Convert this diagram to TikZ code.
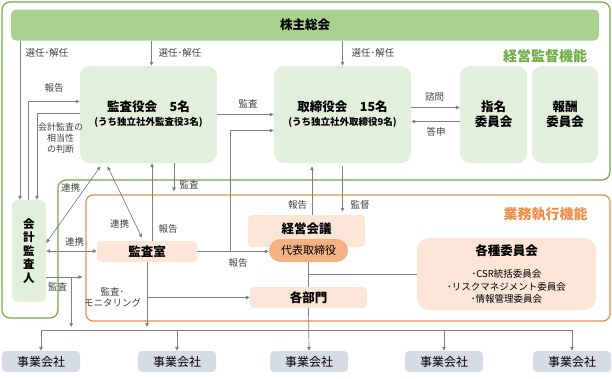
\documentclass[tikz,border=0pt]{standalone}
\usepackage{fontspec}
\setmainfont{Noto Sans CJK JP}
\usetikzlibrary{arrows.meta}

\definecolor{verde}{HTML}{A9D18E}
\definecolor{verdeclaro}{HTML}{E2EFDA}
\definecolor{verdeescuro}{HTML}{70AD47}
\definecolor{laranja}{HTML}{F08C4A}
\definecolor{pessego}{HTML}{FBE5D6}
\definecolor{salmao}{HTML}{F4B183}
\definecolor{cinza}{HTML}{D6DCE5}
\definecolor{cinzalinha}{HTML}{7F7F7F}
\definecolor{texto}{HTML}{404040}

\begin{document}
\begin{tikzpicture}[x=1pt, y=-1pt,
        verdebox/.style={fill=verdeclaro, rounded corners=10, inner sep=0, align=center,
            font=\bfseries\fontsize{12.5}{15}\selectfont},
        pessegobox/.style={fill=pessego, rounded corners=4, inner sep=0,
            font=\bfseries\fontsize{12.5}{15}\selectfont},
        empresa/.style={fill=cinza, rounded corners=4, inner sep=0, minimum width=78,
            minimum height=21, font=\fontsize{12}{14}\selectfont},
        rotulo/.style={inner sep=0, align=center, text=texto, font=\fontsize{9.5}{11.5}\selectfont},
        conector/.style={draw=cinzalinha, line width=0.7pt},
        seta/.style={conector, -{Triangle[length=4pt,width=3.5pt]}},
        seta2/.style={conector, {Triangle[length=4pt,width=3.5pt]}-{Triangle[length=4pt,width=3.5pt]}}]
        \useasboundingbox (0,0) rectangle (612,378);

        % Molduras
        \draw[verdeescuro, line width=1.2pt, rounded corners=8]
            (2,2) -- (610,2) -- (610,180) -- (58,180) -- (58,318) -- (2,318) -- cycle;
        \node[draw=laranja, line width=1.2pt, rounded corners=7, inner sep=0,
            minimum width=524, minimum height=126] (gyomu) at (348,258) {};
        \node[inner sep=0, text=verdeescuro, font=\bfseries\fontsize{14}{16}\selectfont]
            (kantoku) at (545,56) {経営監督機能};
        \node[inner sep=0, text=laranja, font=\bfseries\fontsize{14}{16}\selectfont]
            (shikko) at (545.5,214) {業務執行機能};

        % Caixas
        \node[fill=verde, rounded corners=5, minimum width=588, minimum height=31,
            font=\bfseries\fontsize{12.5}{15}\selectfont] (kabunushi) at (305,25) {株主総会};
        \node[verdebox, minimum width=137, minimum height=97] (kansayaku) at (148.5,114.5)
            {監査役会　5名\\[-1pt]{\fontsize{9.5}{11}\selectfont (うち独立社外監査役3名)}};
        \node[verdebox, minimum width=137, minimum height=97] (torishimari) at (342.5,114.5)
            {取締役会　15名\\[-1pt]{\fontsize{9.5}{11}\selectfont (うち独立社外取締役9名)}};
        \node[verdebox, minimum width=67, minimum height=97] (shimei) at (493.5,114.5) {指名\\委員会};
        \node[verdebox, minimum width=66, minimum height=97] (hoshu) at (565,114.5) {報酬\\委員会};
        \node[verdebox, rounded corners=6, minimum width=34, minimum height=102,
            font=\bfseries\fontsize{11.5}{13.5}\selectfont] (kaikei) at (29,251) {会\\計\\監\\査\\人};
        \node[pessegobox, minimum width=100, minimum height=21] (shitsu) at (147,251.5) {監査室};
        \node[pessegobox, minimum width=117, minimum height=32, text depth=6pt] (keiei) at (306.5,231) {経営会議};
        \node[fill=salmao, rounded corners=11.5, inner sep=0, minimum width=79, minimum height=23,
            font=\fontsize{11}{13}\selectfont] (daihyo) at (308.5,250.5) {代表取締役};
        \node[pessegobox, minimum width=117, minimum height=21] (bumon) at (308.5,297.5) {各部門};
        \node[pessegobox, rounded corners=12, minimum width=179, minimum height=72, align=center,
            font=\fontsize{9.5}{12.5}\selectfont] (iinkai) at (506.5,274)
            {{\bfseries\fontsize{12.5}{15}\selectfont 各種委員会}\\[10pt]
             ･CSR統括委員会\\･リスクマネジメント委員会\\･情報管理委員会};
        \foreach \x [count=\i] in {41,177,309,444,572}
            \node[empresa] (jigyo\i) at (\x,361.5) {事業会社};

        % Conexoes
        \coordinate (bus-l) at (41,330);
        \coordinate (bus-r) at (572,330);
        \draw[conector] (bus-l) -- (bus-r);
        \foreach \i in {1,2,4,5}
            \draw[seta] (jigyo\i.north |- bus-l) -- (jigyo\i.north);

        \draw[seta] ([xshift=-9pt]kaikei.north |- kabunushi.south) -- ([xshift=-9pt]kaikei.north);
        \draw[seta] ([xshift=3pt]kansayaku.north |- kabunushi.south) -- ([xshift=3pt]kansayaku.north);
        \draw[seta] (torishimari.north |- kabunushi.south) -- (torishimari.north);
        \draw[seta] ([xshift=-1pt]kaikei.north) |- ([yshift=13pt]kansayaku.west);
        \draw[seta] ([yshift=1pt]kansayaku.west) -| ([xshift=8pt]kaikei.north);
        \draw[seta] (kansayaku.east) -- (torishimari.west);
        \draw[seta] ([yshift=7pt]torishimari.east) -- ([yshift=7pt]shimei.west);
        \draw[seta] ([yshift=-7pt]shimei.west) -- ([yshift=-7pt]torishimari.east);

        \draw[seta2] ([yshift=8pt]kaikei.east) -- ([xshift=-48pt,yshift=-3pt]kansayaku.south);
        \draw[seta2] (kaikei.east) -- (kaikei.east -| shitsu.west);
        \draw[seta2] ([xshift=-41pt,yshift=-3pt]kansayaku.south) -- ([xshift=-5pt,yshift=3pt]shitsu.north);
        \draw[seta] ([xshift=5pt]shitsu.north) -- ([xshift=5pt]shitsu.north |- kansayaku.south);
        \draw[seta] ([xshift=25.5pt]kansayaku.south) -- ([xshift=25.5pt,yshift=3pt]kansayaku.south |- gyomu.north);

        \coordinate (k-audit) at ([yshift=-26pt]kaikei.east);
        \draw[seta] (k-audit) -- ([xshift=-3pt]k-audit -| gyomu.west);
        \draw[seta] ([xshift=25pt]k-audit) -- ([xshift=25pt,yshift=3pt]k-audit |- bus-l);

        \draw[seta] (shitsu.east) -- (shitsu.east -| daihyo.west);
        \draw[seta] ([xshift=33pt]shitsu.east) |- ([yshift=-16pt]torishimari.west);
        \draw[seta] (shitsu.south) -- ([yshift=3pt]shitsu.south |- bus-l);
        \draw[seta] (shitsu.south |- bumon.west) -- (bumon.west);

        \draw[seta] ([xshift=5.5pt]keiei.north) -- ([xshift=5.5pt,yshift=-3pt]keiei.north |- torishimari.south);
        \draw[seta] ([yshift=-3pt]torishimari.south) -- ([yshift=3pt]torishimari.south |- keiei.north);
        \draw[conector] (daihyo.south) -- (bumon.north);
        \draw[conector] (daihyo.south |- iinkai.west) -- (iinkai.west);
        \draw[seta] (bumon.south) -- (jigyo3.north);

        % Rotulos
        \node[rotulo] (r-sennin1) at (47,53) {選任･解任};
        \node[rotulo] (r-sennin2) at (180,53) {選任･解任};
        \node[rotulo] (r-sennin3) at (373,53) {選任･解任};
        \node[rotulo] (r-hokoku1) at (54,88) {報告};
        \node[rotulo, font=\fontsize{9}{11}\selectfont] (r-soto) at (60.5,138.5) {会計監査の\\相当性\\の判断};
        \node[rotulo] (r-kansa1) at (248,104) {監査};
        \node[rotulo] (r-shimon) at (434.5,97) {諮問};
        \node[rotulo] (r-toshin) at (436,132) {答申};
        \node[rotulo] (r-kansa2) at (189,185) {監査};
        \node[rotulo] (r-renkei1) at (70.5,188) {連携};
        \node[rotulo] (r-renkei2) at (119.5,224) {連携};
        \node[rotulo] (r-renkei3) at (74.5,242) {連携};
        \node[rotulo] (r-hokoku2) at (168,229) {報告};
        \node[rotulo] (r-kansa3) at (57.5,287) {監査};
        \node[rotulo] (r-monitor) at (112.5,297.5) {監査･\\モニタリング};
        \node[rotulo] (r-hokoku3) at (238,263) {報告};
        \node[rotulo] (r-hokoku4) at (297.5,205) {報告};
        \node[rotulo] (r-kantoku) at (360,205) {監督};
    \end{tikzpicture}
\end{document}
